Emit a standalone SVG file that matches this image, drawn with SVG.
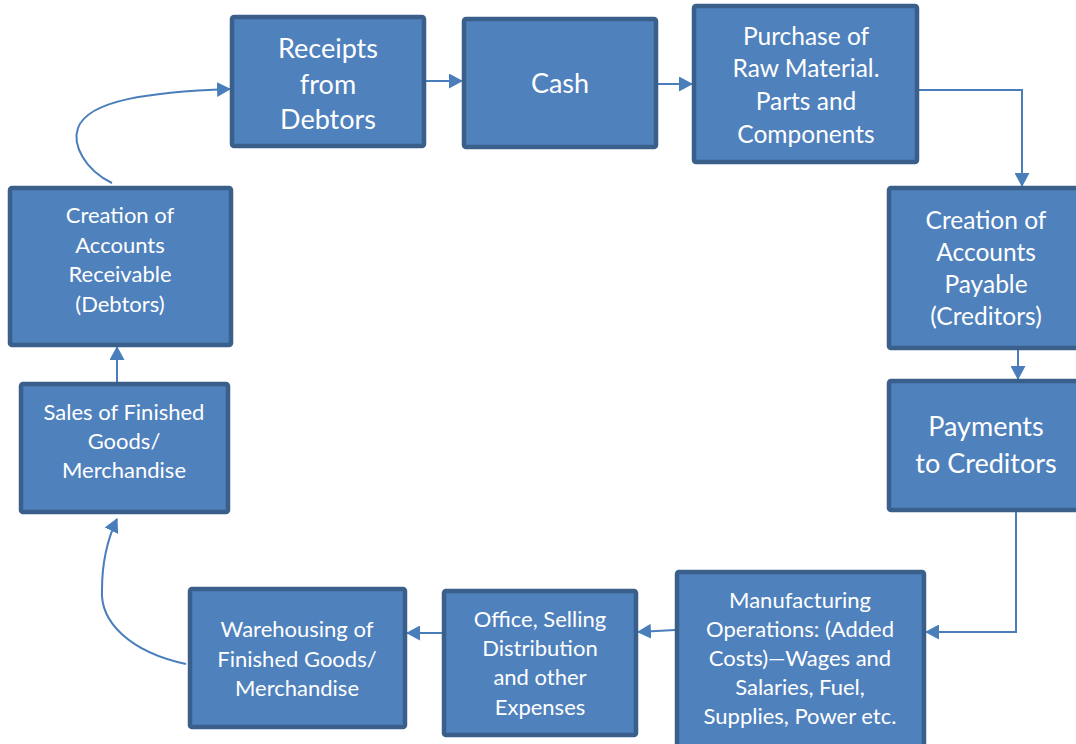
<svg xmlns="http://www.w3.org/2000/svg" width="1076" height="744" viewBox="0 0 1076 744">
<style>
.box{fill:#4F81BD;stroke:#3A5F8B;stroke-width:4.5}
.t{font-family:Lato,"Liberation Sans",sans-serif;fill:#FFFFFF;text-anchor:middle}
.s{font-size:22px}
.m{font-size:24.5px}
.l{font-size:27px}
.c{fill:none;stroke:#4A7EBB;stroke-width:2}
</style>
<defs>
<marker id="ah" markerUnits="userSpaceOnUse" markerWidth="14" markerHeight="15" refX="13" refY="7.5" orient="auto">
<path d="M0,0 L14,7.5 L0,15 z" fill="#4A7EBB"/>
</marker>
</defs>
<rect width="1076" height="744" fill="#FFFFFF"/>
<g id="connectors">
<path class="c" marker-end="url(#ah)" d="M112,183 C85,170 72,145 78,128 C88,100 150,92 230,89"/>
<path class="c" marker-end="url(#ah)" d="M426,81 H462"/>
<path class="c" marker-end="url(#ah)" d="M658,84 H692"/>
<path class="c" marker-end="url(#ah)" d="M919,90 H1022 V186"/>
<path class="c" marker-end="url(#ah)" d="M1018,350 V379"/>
<path class="c" marker-end="url(#ah)" d="M1016,512 V632 H926"/>
<path class="c" marker-end="url(#ah)" d="M675,630 L638,632"/>
<path class="c" marker-end="url(#ah)" d="M442,633 H407"/>
<path class="c" marker-end="url(#ah)" d="M186,664 C130,652 100,622 102,590 C102,562 107,540 117,519"/>
<path class="c" marker-end="url(#ah)" d="M117,382 V347"/>
</g>
<g id="receipts">
<rect class="box" x="232" y="17" width="192" height="129" rx="2"/>
<text class="t l"><tspan x="328" y="58">Receipts</tspan><tspan x="328" y="94">from</tspan><tspan x="328" y="129">Debtors</tspan></text>
</g>
<g id="cash">
<rect class="box" x="464" y="19" width="192" height="128" rx="2"/>
<text class="t l" x="560" y="93">Cash</text>
</g>
<g id="purchase">
<rect class="box" x="694" y="6" width="223" height="156" rx="2"/>
<text class="t m"><tspan x="806" y="45">Purchase of</tspan><tspan x="806" y="77">Raw Material.</tspan><tspan x="806" y="110">Parts and</tspan><tspan x="806" y="143">Components</tspan></text>
</g>
<g id="payable">
<rect class="box" x="889" y="188" width="194" height="160" rx="2"/>
<text class="t m"><tspan x="986" y="229">Creation of</tspan><tspan x="986" y="261">Accounts</tspan><tspan x="986" y="293">Payable</tspan><tspan x="986" y="325">(Creditors)</tspan></text>
</g>
<g id="payments">
<rect class="box" x="889" y="381" width="194" height="129" rx="2"/>
<text class="t l"><tspan x="986" y="436">Payments</tspan><tspan x="986" y="473">to Creditors</tspan></text>
</g>
<g id="manufacturing">
<rect class="box" x="677" y="572" width="247" height="180" rx="2"/>
<text class="t s"><tspan x="800" y="608">Manufacturing</tspan><tspan x="800" y="637">Operations: (Added</tspan><tspan x="800" y="666">Costs)—Wages and</tspan><tspan x="800" y="695">Salaries, Fuel,</tspan><tspan x="800" y="724">Supplies, Power etc.</tspan></text>
</g>
<g id="office">
<rect class="box" x="444" y="591" width="192" height="144" rx="2"/>
<text class="t s"><tspan x="540" y="627">Office, Selling</tspan><tspan x="540" y="656">Distribution</tspan><tspan x="540" y="685">and other</tspan><tspan x="540" y="715">Expenses</tspan></text>
</g>
<g id="warehousing">
<rect class="box" x="190" y="589" width="215" height="138" rx="2"/>
<text class="t s"><tspan x="297" y="637">Warehousing of</tspan><tspan x="297" y="667">Finished Goods/</tspan><tspan x="297" y="696">Merchandise</tspan></text>
</g>
<g id="sales">
<rect class="box" x="21" y="384" width="207" height="128" rx="2"/>
<text class="t s"><tspan x="124" y="420">Sales of Finished</tspan><tspan x="124" y="449">Goods/</tspan><tspan x="124" y="478">Merchandise</tspan></text>
</g>
<g id="receivable">
<rect class="box" x="10" y="188" width="221" height="157" rx="2"/>
<text class="t s"><tspan x="120" y="223">Creation of</tspan><tspan x="120" y="253">Accounts</tspan><tspan x="120" y="282">Receivable</tspan><tspan x="120" y="312">(Debtors)</tspan></text>
</g>
</svg>
